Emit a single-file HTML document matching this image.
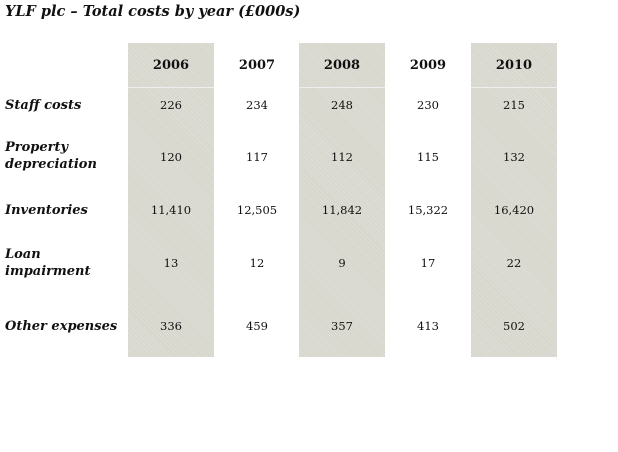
<!DOCTYPE html>
<html><head><meta charset="utf-8"><style>
body{margin:0;width:618px;height:452px;background:#fff;position:relative;overflow:hidden;font-family:"DejaVu Serif","Liberation Serif",serif;color:#111}
.sh{position:absolute;top:43px;height:314px;width:86px;background:#d3d3c9;
background-image:repeating-linear-gradient(45deg,rgba(255,255,255,.3) 0 1px,transparent 1px 2px)}
.t{position:absolute;font-weight:bold;font-style:italic;font-size:14.5px;left:5px;top:3px}
.l{position:absolute;left:5px;font-weight:bold;font-style:italic;font-size:13px;line-height:17px}
.n{position:absolute;width:86px;text-align:center;font-size:11.5px}
.h{position:absolute;width:86px;text-align:center;font-size:13px;font-weight:bold}
.sep{position:absolute;top:87px;height:1px;background:#eee}
</style></head><body>
<div class="t">YLF plc – Total costs by year (£000s)</div>
<div class="sh" style="left:128px"></div>
<div class="sh" style="left:299px"></div>
<div class="sh" style="left:471px"></div>
<div class="sep" style="left:128px;width:86px"></div>
<div class="sep" style="left:299px;width:86px"></div>
<div class="sep" style="left:471px;width:86px"></div>

<div class="h" style="left:128px;top:58px">2006</div>
<div class="h" style="left:214px;top:58px">2007</div>
<div class="h" style="left:299px;top:58px">2008</div>
<div class="h" style="left:385px;top:58px">2009</div>
<div class="h" style="left:471px;top:58px">2010</div>

<div class="l" style="top:97px">Staff costs</div>
<div class="l" style="top:139px">Property<br>depreciation</div>
<div class="l" style="top:202px">Inventories</div>
<div class="l" style="top:246px">Loan<br>impairment</div>
<div class="l" style="top:318px">Other expenses</div>

<div class="n" style="left:128px;top:98px">226</div><div class="n" style="left:214px;top:98px">234</div><div class="n" style="left:299px;top:98px">248</div><div class="n" style="left:385px;top:98px">230</div><div class="n" style="left:471px;top:98px">215</div>
<div class="n" style="left:128px;top:150px">120</div><div class="n" style="left:214px;top:150px">117</div><div class="n" style="left:299px;top:150px">112</div><div class="n" style="left:385px;top:150px">115</div><div class="n" style="left:471px;top:150px">132</div>
<div class="n" style="left:128px;top:203px">11,410</div><div class="n" style="left:214px;top:203px">12,505</div><div class="n" style="left:299px;top:203px">11,842</div><div class="n" style="left:385px;top:203px">15,322</div><div class="n" style="left:471px;top:203px">16,420</div>
<div class="n" style="left:128px;top:256px">13</div><div class="n" style="left:214px;top:256px">12</div><div class="n" style="left:299px;top:256px">9</div><div class="n" style="left:385px;top:256px">17</div><div class="n" style="left:471px;top:256px">22</div>
<div class="n" style="left:128px;top:319px">336</div><div class="n" style="left:214px;top:319px">459</div><div class="n" style="left:299px;top:319px">357</div><div class="n" style="left:385px;top:319px">413</div><div class="n" style="left:471px;top:319px">502</div>
</body></html>
